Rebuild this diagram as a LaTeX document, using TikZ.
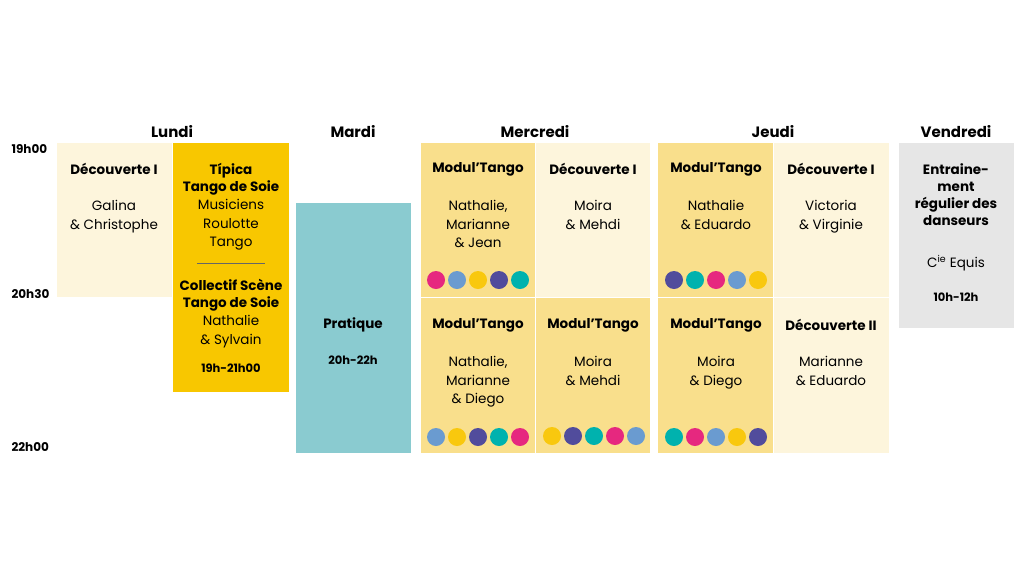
\documentclass[tikz,border=0pt]{standalone}
\usepackage{fontspec}
\setmainfont{Poppins}
\definecolor{cream}{HTML}{FDF5DC}
\definecolor{gold}{HTML}{F8C700}
\definecolor{sand}{HTML}{F9DF8C}
\definecolor{aqua}{HTML}{8ACBD0}
\definecolor{greyc}{HTML}{E6E6E6}
\definecolor{dpink}{HTML}{E6287F}
\definecolor{dblue}{HTML}{6A9BD0}
\definecolor{dyel}{HTML}{F9C80E}
\definecolor{dpurp}{HTML}{514C9C}
\definecolor{dteal}{HTML}{00B2AE}
\newcommand{\dotrow}[3]{% x, y, colour list
  \foreach \c [count=\i from 0] in {#3}
    \fill[\c] (#1+\i*21,#2) circle (9);
}
\begin{document}
\begin{tikzpicture}[
    x=1pt, y=-1pt,
    day/.style={font=\fontsize{15}{18}\selectfont\bfseries},
    hour/.style={font=\fontsize{12}{14}\selectfont\bfseries, anchor=west},
    ttl/.style={font=\fontsize{13.5}{17}\selectfont\bfseries, align=center},
    who/.style={font=\fontsize{13.5}{18.5}\selectfont, align=center, anchor=north},
    hrs/.style={font=\fontsize{11.5}{14}\selectfont\bfseries}
]
\useasboundingbox (0,0) rectangle (1024,576);

% Days and hours
\node[day] (lun) at (172,132) {Lundi};
\node[day] (mar) at (353,132) {Mardi};
\node[day] (mer) at (535,132) {Mercredi};
\node[day] (jeu) at (773,132) {Jeudi};
\node[day] (ven) at (956,132) {Vendredi};
\node[hour] (h19) at (8,149) {19h00};
\node[hour] (h20) at (8,294) {20h30};
\node[hour] (h22) at (8,447) {22h00};

% Lundi
\fill[cream] (57,143) rectangle (172,297);
\node[ttl] (lun1) at (114,169) {Découverte I};
\node[who] (lun1w) at (114,197) {Galina\\\& Christophe};
\fill[gold] (173,143) rectangle (289,392);
\node[ttl, anchor=north] (tip) at (231,160) {Típica\\Tango de Soie};
\node[who] (tipw) at (231,196) {Musiciens\\Roulotte\\Tango};
\draw[black!60, thin] (197,263) -- (265,263);
\node[ttl, anchor=north] (col) at (231,276) {Collectif Scène\\Tango de Soie};
\node[who] (colw) at (231,312) {Nathalie\\\& Sylvain};
\node[hrs] (colh) at (231,368) {19h-21h00};

% Mardi
\fill[aqua] (296,203) rectangle (411,453);
\node[ttl] (pra) at (353,325) {Pratique};
\node[hrs] (prah) at (353,360) {20h-22h};

% Mercredi
\fill[sand] (421,143) rectangle (535,297);
\fill[cream] (536,143) rectangle (650,297);
\fill[sand] (421,298) rectangle (535,453);
\fill[sand] (536,298) rectangle (650,453);
\node[ttl] (me1) at (478,169) {Modul’Tango};
\node[who] (me1w) at (478,197) {Nathalie,\\Marianne\\\& Jean};
\dotrow{436}{280}{dpink,dblue,dyel,dpurp,dteal}
\node[ttl] (me2) at (593,169) {Découverte I};
\node[who] (me2w) at (593,197) {Moira\\\& Mehdi};
\node[ttl] (me3) at (478,325) {Modul’Tango};
\node[who] (me3w) at (478,353) {Nathalie,\\Marianne\\\& Diego};
\dotrow{436}{437}{dblue,dyel,dpurp,dteal,dpink};
\node[ttl] (me4) at (593,325) {Modul’Tango};
\node[who] (me4w) at (593,353) {Moira\\\& Mehdi};
\dotrow{552}{436}{dyel,dpurp,dteal,dpink,dblue};

% Jeudi
\fill[sand] (658,143) rectangle (773,297);
\fill[cream] (774,143) rectangle (889,297);
\fill[sand] (658,298) rectangle (773,453);
\fill[cream] (774,298) rectangle (889,453);
\node[ttl] (je1) at (716,169) {Modul’Tango};
\node[who] (je1w) at (716,197) {Nathalie\\\& Eduardo};
\dotrow{674}{280}{dpurp,dteal,dpink,dblue,dyel}
\node[ttl] (je2) at (831,169) {Découverte I};
\node[who] (je2w) at (831,197) {Victoria\\\& Virginie};
\node[ttl] (je3) at (716,325) {Modul’Tango};
\node[who] (je3w) at (716,353) {Moira\\\& Diego};
\dotrow{674}{437}{dteal,dpink,dblue,dyel,dpurp}
\node[ttl] (je4) at (831,325) {Découverte II};
\node[who] (je4w) at (831,353) {Marianne\\\& Eduardo};

% Vendredi
\fill[greyc] (899,143) rectangle (1014,328);
\node[ttl, anchor=north] (ent) at (956,160) {Entraine-\\ment\\régulier des\\danseurs};
\node[who] (entw) at (956,252) {C\textsuperscript{ie} Equis};
\node[hrs] (enth) at (956,297) {10h-12h};

\end{tikzpicture}
\end{document}
